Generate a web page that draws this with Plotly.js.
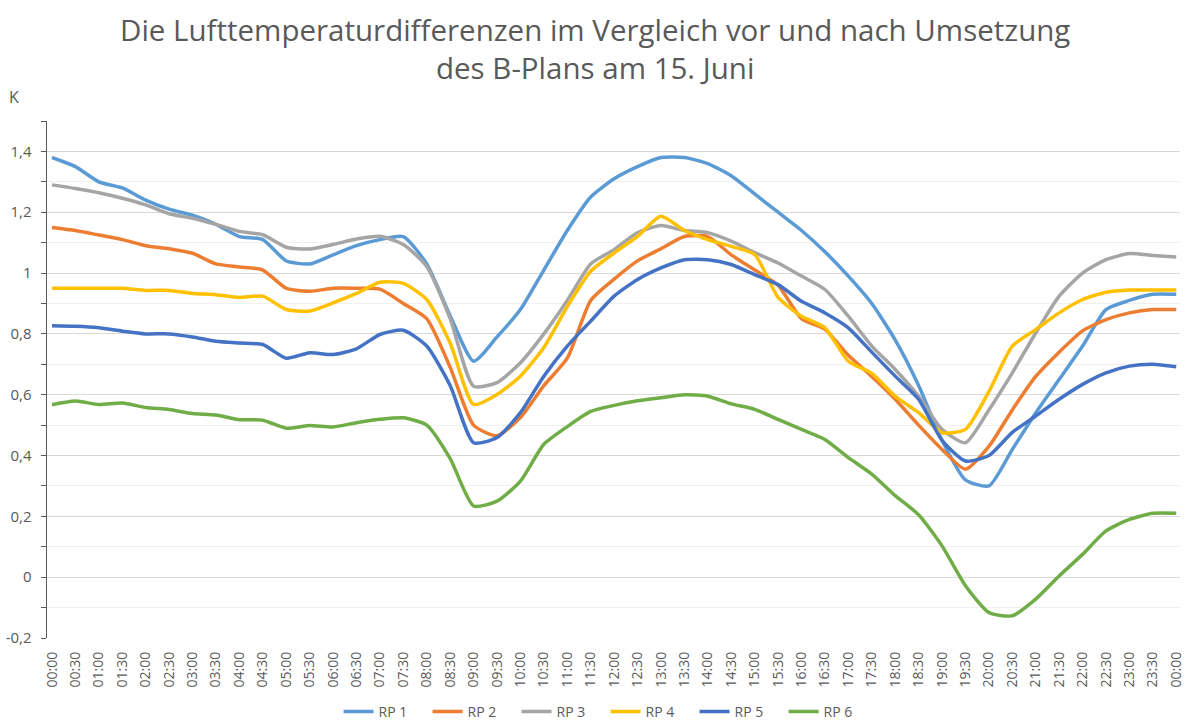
<!DOCTYPE html>
<html>
<head>
<meta charset="utf-8">
<script src="https://cdn.plot.ly/plotly-3.0.1.min.js"></script>
<style>html,body{margin:0;padding:0;background:#fff;}#chart{width:1184px;height:722px;}</style>
</head>
<body>
<div id="chart"></div>
<script>
const timeLabels = ["00:00","00:30","01:00","01:30","02:00","02:30","03:00","03:30","04:00","04:30","05:00","05:30","06:00","06:30","07:00","07:30","08:00","08:30","09:00","09:30","10:00","10:30","11:00","11:30","12:00","12:30","13:00","13:30","14:00","14:30","15:00","15:30","16:00","16:30","17:00","17:30","18:00","18:30","19:00","19:30","20:00","20:30","21:00","21:30","22:00","22:30","23:00","23:30","00:00"];
const seriesNames = ["RP 1","RP 2","RP 3","RP 4","RP 5","RP 6"];
const rp1 = [1.38,1.35,1.30,1.28,1.24,1.21,1.19,1.16,1.12,1.11,1.04,1.03,1.06,1.09,1.11,1.12,1.03,0.86,0.71,0.79,0.88,1.01,1.14,1.25,1.31,1.35,1.38,1.38,1.36,1.32,1.26,1.20,1.14,1.07,0.99,0.90,0.78,0.63,0.45,0.32,0.30,0.42,0.54,0.65,0.76,0.88,0.91,0.93,0.93];
const rp2 = [1.15,1.14,1.125,1.11,1.09,1.08,1.065,1.03,1.02,1.01,0.95,0.94,0.95,0.95,0.947,0.90,0.85,0.69,0.50,0.465,0.525,0.63,0.72,0.91,0.98,1.04,1.08,1.12,1.12,1.06,1.01,0.96,0.85,0.815,0.73,0.66,0.585,0.50,0.42,0.355,0.43,0.55,0.66,0.74,0.81,0.847,0.869,0.88,0.88];
const rp3 = [1.29,1.278,1.264,1.246,1.224,1.195,1.18,1.16,1.137,1.126,1.085,1.079,1.094,1.112,1.121,1.094,1.022,0.85,0.628,0.64,0.705,0.80,0.91,1.03,1.077,1.133,1.156,1.14,1.133,1.105,1.067,1.033,0.99,0.946,0.858,0.76,0.683,0.595,0.486,0.442,0.55,0.672,0.803,0.924,1.0,1.044,1.064,1.058,1.053];
const rp4 = [0.95,0.95,0.95,0.95,0.943,0.943,0.933,0.929,0.92,0.924,0.88,0.875,0.902,0.933,0.97,0.966,0.913,0.77,0.568,0.601,0.661,0.755,0.89,1.006,1.066,1.121,1.187,1.14,1.11,1.088,1.061,0.92,0.858,0.82,0.71,0.67,0.595,0.541,0.475,0.486,0.61,0.76,0.814,0.869,0.913,0.937,0.944,0.944,0.944];
const rp5 = [0.827,0.825,0.82,0.809,0.80,0.80,0.79,0.776,0.77,0.765,0.72,0.738,0.732,0.751,0.798,0.812,0.76,0.63,0.442,0.459,0.541,0.661,0.76,0.842,0.924,0.979,1.017,1.044,1.044,1.028,0.995,0.962,0.907,0.869,0.82,0.74,0.661,0.585,0.45,0.382,0.40,0.476,0.53,0.585,0.634,0.672,0.694,0.70,0.692];
const rp6 = [0.567,0.579,0.568,0.573,0.558,0.551,0.538,0.533,0.518,0.516,0.49,0.499,0.494,0.508,0.519,0.524,0.50,0.39,0.234,0.25,0.316,0.437,0.495,0.545,0.565,0.58,0.59,0.60,0.595,0.57,0.552,0.519,0.486,0.453,0.393,0.339,0.268,0.205,0.103,-0.028,-0.116,-0.127,-0.072,0.004,0.075,0.152,0.19,0.21,0.21];
const yTickVals = [-0.2,0,0.2,0.4,0.6,0.8,1,1.2,1.4];
const yTickText = ["-0,2","0","0,2","0,4","0,6","0,8","1","1,2","1,4"];
const titleText = 'Die Lufttemperaturdifferenzen im Vergleich vor und nach Umsetzung<br>des B-Plans am 15. Juni';
const unitText = 'K';

const colors = ["#5B9BD5","#ED7D31","#A5A5A5","#FFC000","#4472C4","#70AD47"];
const allSeries = [rp1,rp2,rp3,rp4,rp5,rp6];
const xIdx = timeLabels.map((_, i) => i);

const traces = allSeries.map((ys, i) => ({
  x: xIdx, y: ys, name: seriesNames[i], type: 'scatter', mode: 'lines',
  line: {color: colors[i], width: 3.5, shape: 'spline', smoothing: 0.6}, hoverinfo: 'skip'
}));

const font = "'Open Sans', 'Noto Sans', sans-serif";
const layout = {
  width: 1184, height: 722,
  margin: {l: 47, r: 4, t: 121, b: 84, autoexpand: false},
  paper_bgcolor: '#ffffff', plot_bgcolor: '#ffffff',
  font: {family: font, color: '#595959', size: 14},
  xaxis: {
    range: [-0.213, 48.16], tickvals: xIdx, ticktext: timeLabels, tickangle: -90,
    showgrid: false, zeroline: false, showline: false, ticks: '', automargin: false,
    ticklabelstandoff: 10, ticklabeloverflow: 'allow',
    tickfont: {family: font, size: 14, color: '#595959'}
  },
  yaxis: {
    range: [-0.2, 1.5], tickvals: yTickVals, ticktext: yTickText, automargin: false,
    showgrid: true, gridcolor: '#d9d9d9', gridwidth: 1, zeroline: false,
    showline: true, linecolor: '#595959', linewidth: 1.5,
    ticks: 'outside', ticklen: 5, tickcolor: '#595959', ticklabelstandoff: 6,
    tickfont: {family: font, size: 15, color: '#595959'},
    minor: {dtick: 0.1, tick0: 0, showgrid: true, gridcolor: '#f0f0f0', ticks: 'outside', ticklen: 5, tickcolor: '#595959'}
  },
  legend: {
    orientation: 'h', x: 0.493, xanchor: 'center', yref: 'container', y: 0.036, yanchor: 'top',
    font: {family: font, size: 14, color: '#595959'}, entrywidth: 44, entrywidthmode: 'pixels',
    traceorder: 'normal'
  },
  annotations: [
    {
      text: titleText, xref: 'paper', yref: 'paper', x: 0.484, y: 1.2205, xanchor: 'center', yanchor: 'top',
      showarrow: false, align: 'center', font: {family: font, size: 29.5, color: '#595959'}
    },
    {
      text: unitText, xref: 'paper', yref: 'paper', x: -0.029, y: 1.046, xanchor: 'center', yanchor: 'middle',
      showarrow: false, font: {family: font, size: 16, color: '#595959'}
    }
  ],
  showlegend: true
};

Plotly.newPlot('chart', traces, layout, {displayModeBar: false, staticPlot: true});
</script>
</body>
</html>
